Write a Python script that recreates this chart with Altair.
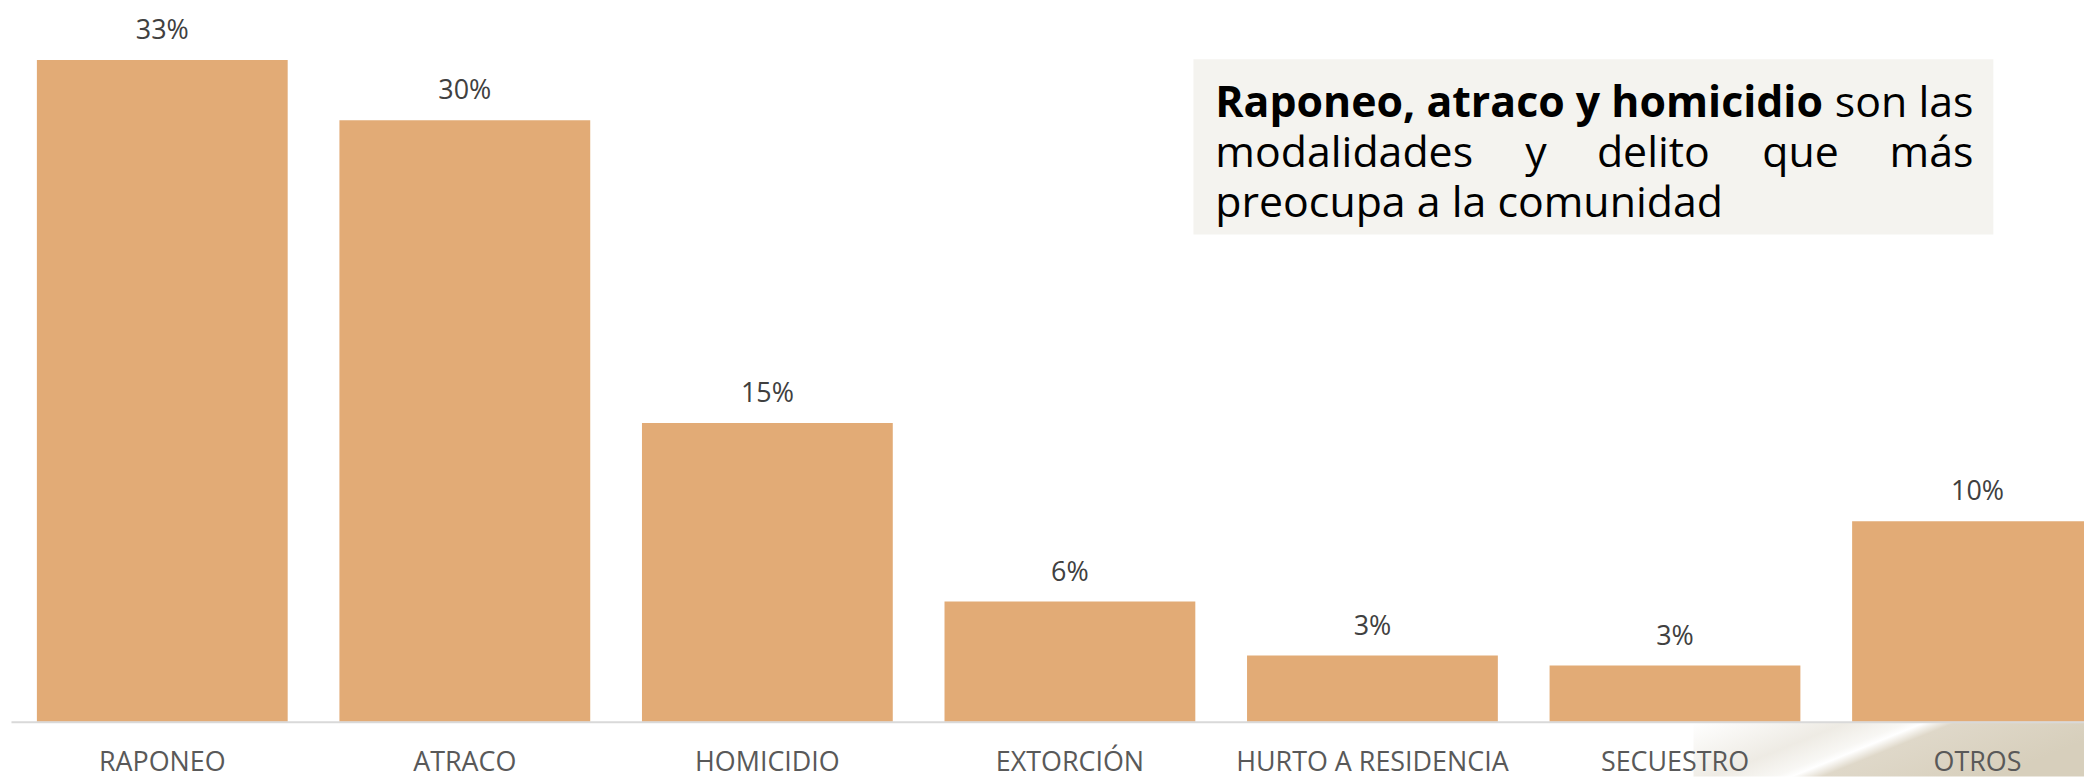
import altair as alt
import pandas as pd

categorias = ["RAPONEO", "ATRACO", "HOMICIDIO", "EXTORCIÓN", "HURTO A RESIDENCIA", "SECUESTRO", "OTROS"]
valores = [0.33, 0.30, 0.149, 0.060, 0.033, 0.028, 0.10]

titulo_negrita = "Raponeo, atraco y homicidio"
titulo_resto = "son las"
linea2_palabras = ["modalidades", "y", "delito", "que", "más"]
linea3 = "preocupa a la comunidad"

FONT = "Open Sans"
BAR = "#E2AB76"

df = pd.DataFrame({"categoria": categorias, "valor": valores})

# plot origin in page pixels: (11, 8)
OX, OY = 11, 8

x_enc = alt.X(
    "categoria:N",
    sort=categorias,
    scale=alt.Scale(range=[0, 2126], paddingInner=0.171, paddingOuter=0.0856),
    axis=alt.Axis(
        title=None, labelAngle=0, ticks=False, tickSize=0, labelPadding=28,
        labelFont=FONT, labelFontSize=27, labelColor="#595959", labelLimit=0,
        domainColor="#D9D9D9", domainWidth=2, grid=False, zindex=1,
    ),
)
y_enc = alt.Y("valor:Q", scale=alt.Scale(domain=[0, 0.3552], nice=False, zero=True), axis=None)

base = alt.Chart(df)

bars = base.mark_bar(color=BAR).encode(x=x_enc, y=y_enc)
labels = base.mark_text(
    font=FONT, fontSize=27, color="#404040", baseline="middle", align="center", dy=-29
).encode(x=x_enc, y=y_enc, text=alt.Text("valor:Q", format=".0%"))

# annotation box
box = alt.Chart(pd.DataFrame({"k": [1]})).mark_rect(color="#F4F3EF").encode(
    x=alt.value(1198 - OX), x2=alt.value(2001 - OX),
    y=alt.value(58 - OY), y2=alt.value(234 - OY),
)

# decorative background swoosh (bottom right)
deco = alt.Chart(pd.DataFrame({"k": [1]})).mark_rect(
    color=alt.LinearGradient(
        gradient="linear", x1=0, y1=0, x2=1, y2=0.339,
        stops=[alt.GradientStop(color="#FFFFFF", offset=0),
               alt.GradientStop(color="#EEEBE4", offset=0.35),
               alt.GradientStop(color="#F8F7F4", offset=0.49),
               alt.GradientStop(color="#FFFFFF", offset=0.53),
               alt.GradientStop(color="#DFD8C9", offset=0.6),
               alt.GradientStop(color="#D7CFBC", offset=1)],
    )
).encode(
    x=alt.value(1700 - OX), x2=alt.value(2092 - OX),
    y=alt.value(724 - OY), y2=alt.value(778 - OY),
)

TS = 43
t1 = alt.Chart(pd.DataFrame({"t": [titulo_negrita]})).mark_text(
    font=FONT, fontSize=TS, fontWeight="bold", color="#000000", align="left", baseline="alphabetic"
).encode(x=alt.value(1220 - OX), y=alt.value(116 - OY), text="t:N")
t1b = alt.Chart(pd.DataFrame({"t": [titulo_resto]})).mark_text(
    font=FONT, fontSize=TS, color="#000000", align="right", baseline="alphabetic"
).encode(x=alt.value(1981 - OX), y=alt.value(116 - OY), text="t:N")

l2_x = [1220, 1531, 1603, 1769, 1981]
l2_align = ["left", "left", "left", "left", "right"]
l2_layers = []
for w, xx, al in zip(linea2_palabras, l2_x, l2_align):
    l2_layers.append(
        alt.Chart(pd.DataFrame({"t": [w]})).mark_text(
            font=FONT, fontSize=TS, color="#000000", align=al, baseline="alphabetic"
        ).encode(x=alt.value(xx - OX), y=alt.value(166 - OY), text="t:N")
    )
t3 = alt.Chart(pd.DataFrame({"t": [linea3]})).mark_text(
    font=FONT, fontSize=TS, color="#000000", align="left", baseline="alphabetic"
).encode(x=alt.value(1220 - OX), y=alt.value(216 - OY), text="t:N")

chart = alt.layer(deco, box, bars, labels, t1, t1b, *l2_layers, t3).properties(
    width=2073, height=715,
    autosize=alt.AutoSizeParams(type="none"),
    padding={"left": 3, "top": 0, "right": 8, "bottom": 55},
).configure(background="#FFFFFF").configure_view(stroke=None)

chart.save("out.html", embed_options={"renderer": "svg", "actions": False})
